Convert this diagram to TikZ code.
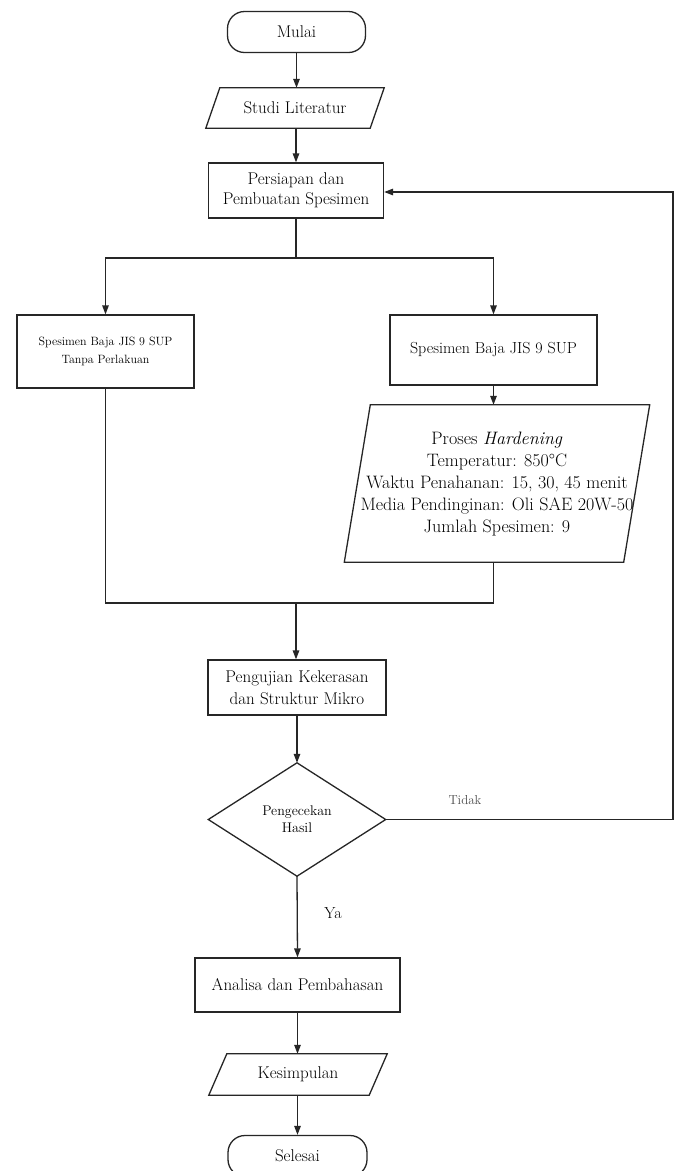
\documentclass[tikz,border=0pt]{standalone}
\usepackage{fontspec}
\usetikzlibrary{arrows.meta,calc}
\tikzset{
  x=1pt,y=-1pt,
  line/.style={draw=black!85,line width=1.3pt},
  arr/.style={line,-{Triangle[length=9pt,width=6.5pt]}},
  box/.style={line,rectangle,inner sep=2pt,align=center,font=\fontsize{17}{21}\selectfont},
  term/.style={box,rounded corners=17pt},
  para/.style={rectangle,inner sep=0pt,align=center,font=\fontsize{17}{21}\selectfont},
  dia/.style={rectangle,inner sep=0pt,align=center,font=\fontsize{14}{17}\selectfont},
}
\newcommand{\drawpara}[2]{%
  \draw[line] ($(#1.north west)+(#2,0)$) -- ($(#1.north east)+(#2,0)$) --
    ($(#1.south east)+(-#2,0)$) -- ($(#1.south west)+(-#2,0)$) -- cycle;}
\begin{document}
\begin{tikzpicture}
\useasboundingbox (0,0) rectangle (681,1171);
\fill[white] (0,0) rectangle (681,1171);

\node[term,minimum width=138pt,minimum height=41pt] (mulai) at (296.5,32) {Mulai};

\node[para,minimum width=164pt,minimum height=40pt] (studi) at (295,108) {Studi Literatur};
\drawpara{studi}{7}

\node[box,minimum width=175pt,minimum height=55pt,font=\fontsize{17}{20}\selectfont] (pers) at (296,190.5) {Persiapan dan\\Pembuatan Spesimen};

\coordinate (split) at (296,258);

\node[box,minimum width=177pt,minimum height=73pt,font=\fontsize{12}{17.5}\selectfont] (left) at (105.5,351.5) {Spesimen Baja JIS 9 SUP\\Tanpa Perlakuan};
\node[box,minimum width=207pt,minimum height=70pt,font=\fontsize{16}{18}\selectfont] (right) at (493.5,350) {Spesimen Baja JIS 9 SUP};

\node[para,minimum width=279pt,minimum height=157pt,font=\fontsize{18}{22}\selectfont] (hard) at (497,483.5)
  {Proses \textit{Hardening}\\Temperatur: 850°C\\Waktu Penahanan: 15, 30, 45 menit\\Media Pendinginan: Oli SAE 20W-50\\Jumlah Spesimen: 9};
\drawpara{hard}{13}

\coordinate (mrg) at (296,603);

\node[box,minimum width=178pt,minimum height=55pt,font=\fontsize{17}{22}\selectfont] (peng) at (297,687.5) {Pengujian Kekerasan\\dan Struktur Mikro};

\node[dia,minimum width=177pt,minimum height=113pt] (cek) at (297,819.5) {Pengecekan\\Hasil};
\draw[line] (cek.north) -- (cek.east) -- (cek.south) -- (cek.west) -- cycle;

\coordinate (fb) at (673,819.5);

\node[box,minimum width=205pt,minimum height=54pt] (anal) at (297.5,985) {Analisa dan Pembahasan};

\node[para,minimum width=160pt,minimum height=41pt] (kes) at (298,1074.5) {Kesimpulan};
\drawpara{kes}{9}

\node[term,minimum width=139pt,minimum height=41pt] (sel) at (297.5,1156) {Selesai};

\node[font=\fontsize{13}{15}\selectfont,text=black!70] (tidak) at (465,800) {Tidak};
\node[font=\fontsize{16}{18}\selectfont] (ya) at (333,913) {Ya};

% connectors
\draw[arr] (mulai.south) -- (mulai.south |- studi.north);
\draw[arr] (studi.south -| pers.north) -- (pers.north);
\draw[line] (pers.south) -- (split);
\draw[arr] (split) -| (left.north);
\draw[arr] (split) -| (right.north);
\draw[arr] (right.south) -- (right.south |- hard.north);
\draw[line] (left.south) |- (mrg);
\draw[line] (right.south |- hard.south) |- (mrg);
\draw[arr] (mrg) -- (mrg |- peng.north);
\draw[arr] (peng.south) -- (cek.north);
\draw[line] (cek.east) -- (fb);
\draw[arr] (fb) |- ($(pers.east)+(0,1.5)$);
\draw[arr] (cek.south) -- (anal.north);
\draw[arr] (anal.south) -- (anal.south |- kes.north);
\draw[arr] (kes.south -| sel.north) -- (sel.north);
\end{tikzpicture}
\end{document}
